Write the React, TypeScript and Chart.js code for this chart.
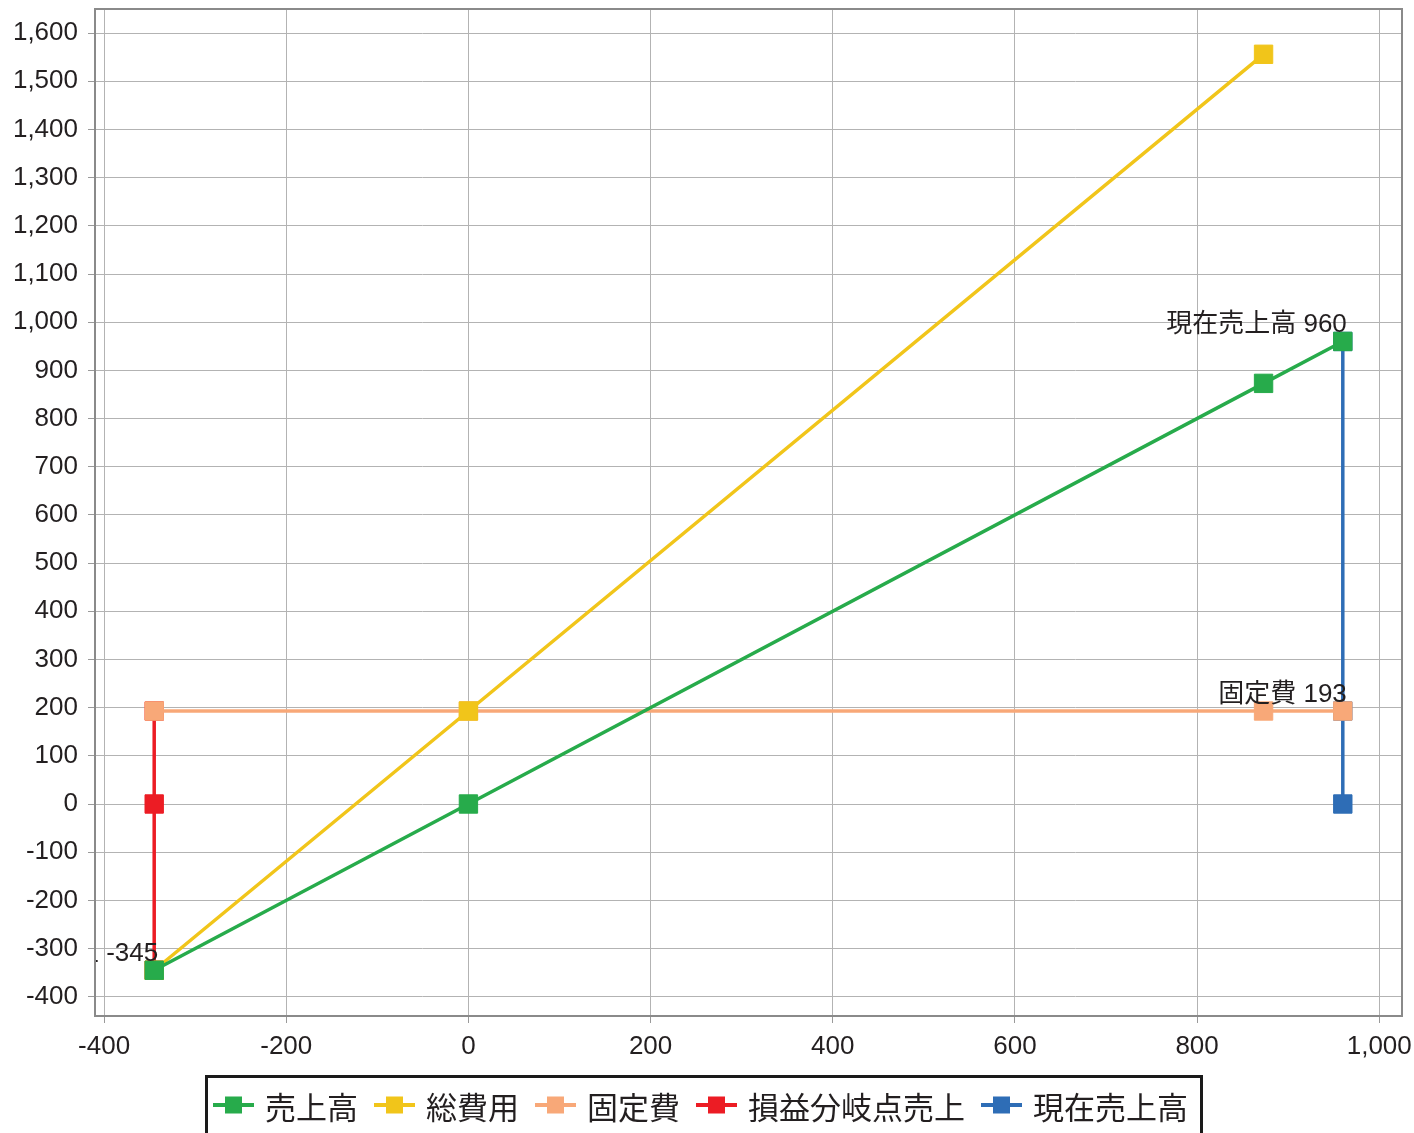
import React, { useEffect, useRef } from "react";
import { Chart, registerables } from "chart.js";

Chart.register(...registerables);

// Break-even analysis series (x = sales, y = amount)
const seriesNames = ["売上高", "総費用", "固定費", "損益分岐点売上", "現在売上高"];
const seriesColors = ["#27ab4b", "#f1c51a", "#f8a878", "#ec1c24", "#2e6db6"];

const salesX = [-345, 0, 873, 960];
const salesY = [-345, 0, 873, 960];
const totalCostX = [-345, 0, 873];
const totalCostY = [-345, 193, 1556];
const fixedCostX = [-345, 0, 873, 960];
const fixedCostY = [193, 193, 193, 193];
const breakEvenX = [-345, -345, -345];
const breakEvenY = [193, 0, -345];
const currentX = [960, 960, 960];
const currentY = [960, 193, 0];

const xRange = [-410, 1025];
const yRange = [-440, 1650];
const xTicks = [-400, -200, 0, 200, 400, 600, 800, 1000];
const yTicks = [
  -400, -300, -200, -100, 0, 100, 200, 300, 400, 500, 600, 700, 800, 900, 1000,
  1100, 1200, 1300, 1400, 1500, 1600,
];

const pointLabels = [
  { text: "現在売上高 960", x: 960, y: 960 },
  { text: "固定費 193", x: 960, y: 193 },
  { text: "損益分岐点売上 -345", x: -345, y: -345 },
];

const LATIN = "'Liberation Sans', Arial, 'Noto Sans CJK JP', sans-serif";
const TEXT_COLOR = "#231f20";

const zip = (xs: number[], ys: number[]) => xs.map((x, i) => ({ x, y: ys[i] }));

const seriesPoints = [
  zip(salesX, salesY),
  zip(totalCostX, totalCostY),
  zip(fixedCostX, fixedCostY),
  zip(breakEvenX, breakEvenY),
  zip(currentX, currentY),
];

const frameAndLabels = {
  id: "frameAndLabels",
  afterDatasetsDraw(chart: any) {
    const { ctx, chartArea, scales } = chart;
    ctx.save();
    ctx.beginPath();
    ctx.rect(chartArea.left, chartArea.top, chartArea.right - chartArea.left, chartArea.bottom - chartArea.top);
    ctx.clip();
    ctx.font = `26px ${LATIN}`;
    ctx.fillStyle = TEXT_COLOR;
    ctx.textAlign = "right";
    ctx.textBaseline = "alphabetic";
    for (const l of pointLabels) {
      const px = scales.x.getPixelForValue(l.x);
      const py = scales.y.getPixelForValue(l.y);
      ctx.fillText(l.text, px + 4, py - 9);
    }
    ctx.restore();

    // plot frame
    ctx.save();
    ctx.strokeStyle = "#8a8a8a";
    ctx.lineWidth = 2;
    ctx.strokeRect(chartArea.left, chartArea.top, chartArea.right - chartArea.left, chartArea.bottom - chartArea.top);
    ctx.restore();
  },
  afterDraw(chart: any) {
    const { ctx } = chart;
    ctx.save();
    // legend box
    ctx.strokeStyle = "#1a1a1a";
    ctx.lineWidth = 3;
    ctx.strokeRect(206.5, 1076.5, 995, 80);
    const cy = 1105;
    let x = 213;
    ctx.font = `31px 'Noto Sans CJK JP', ${LATIN}`;
    ctx.textAlign = "left";
    ctx.textBaseline = "middle";
    seriesNames.forEach((name, i) => {
      ctx.fillStyle = seriesColors[i];
      ctx.fillRect(x, cy - 2, 41, 4);
      ctx.fillRect(x + 12, cy - 8.5, 17, 17);
      ctx.fillStyle = TEXT_COLOR;
      ctx.fillText(name, x + 52, cy + 2);
      x += 52 + ctx.measureText(name).width + 16;
    });
    ctx.restore();
  },
};

const fixedTicks = (values: number[]) => (axis: any) => {
  axis.ticks = values.map((value) => ({ value }));
};

export default function App() {
  const canvasRef = useRef<HTMLCanvasElement | null>(null);

  useEffect(() => {
    if (!canvasRef.current) return;
    const chart = new Chart(canvasRef.current, {
      type: "line",
      data: {
        datasets: seriesPoints.map((pts, i) => ({
          label: seriesNames[i],
          data: pts,
          borderColor: seriesColors[i],
          backgroundColor: seriesColors[i],
          borderWidth: 3.5,
          pointStyle: "rect",
          pointRadius: 13,
          pointHoverRadius: 13,
          pointBorderWidth: 1,
          pointBorderColor: seriesColors[i],
          pointBackgroundColor: seriesColors[i],
          tension: 0,
          fill: false,
        })),
      },
      options: {
        responsive: false,
        animation: false,
        devicePixelRatio: 1,
        layout: { autoPadding: false, padding: { left: 0, top: 9, right: 12, bottom: 67 } },
        plugins: {
          legend: { display: false },
          tooltip: { enabled: false },
        },
        scales: {
          x: {
            type: "linear",
            min: xRange[0],
            max: xRange[1],
            afterBuildTicks: fixedTicks(xTicks),
            afterFit: (axis: any) => {
              axis.height = 50;
              axis.paddingLeft = 0;
              axis.paddingRight = 0;
            },
            ticks: {
              color: TEXT_COLOR,
              font: { size: 26, family: LATIN },
              padding: 8,
              maxRotation: 0,
              autoSkip: false,
              callback: (v: any) => Number(v).toLocaleString("en-US"),
            },
            grid: { color: "#b3b3b3", lineWidth: 1, tickLength: 7, tickColor: "#9a9a9a" },
            border: { display: true, color: "#8a8a8a", width: 2 },
          },
          y: {
            type: "linear",
            min: yRange[0],
            max: yRange[1],
            afterBuildTicks: fixedTicks(yTicks),
            afterFit: (axis: any) => {
              axis.width = 95;
              axis.paddingTop = 0;
              axis.paddingBottom = 0;
            },
            ticks: {
              color: TEXT_COLOR,
              font: { size: 26, family: LATIN },
              padding: 10,
              autoSkip: false,
              callback: (v: any) => Number(v).toLocaleString("en-US"),
            },
            grid: { color: "#b3b3b3", lineWidth: 1, tickLength: 7, tickColor: "#9a9a9a" },
            border: { display: true, color: "#8a8a8a", width: 2 },
          },
        },
      },
      plugins: [frameAndLabels],
    });
    return () => chart.destroy();
  }, []);

  return (
    <div style={{ position: "fixed", left: 0, top: 0, width: 1414, height: 1133, background: "#ffffff" }}>
      <canvas ref={canvasRef} width={1414} height={1133} style={{ display: "block", width: 1414, height: 1133 }} />
    </div>
  );
}
